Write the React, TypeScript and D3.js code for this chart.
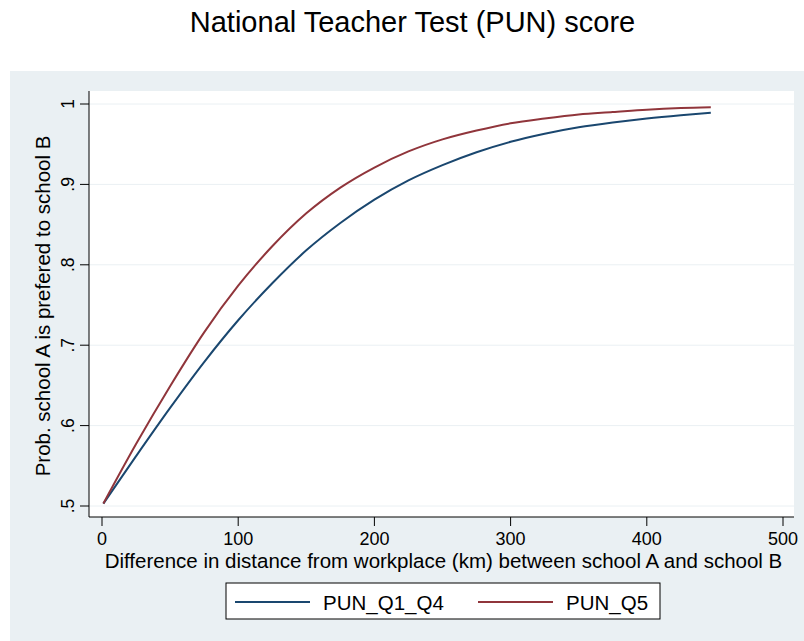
import React from "react";
import * as d3 from "d3";

const distances = [1, 25, 50, 75, 100, 125, 150, 175, 200, 225, 250, 275, 300, 325, 350, 375, 400, 425, 447];
const punQ1Q4 = [0.503, 0.562, 0.622, 0.679, 0.731, 0.777, 0.818, 0.852, 0.881, 0.905, 0.924, 0.94, 0.953, 0.963, 0.971, 0.977, 0.982, 0.986, 0.989];
const punQ5 = [0.503, 0.577, 0.649, 0.716, 0.774, 0.823, 0.864, 0.896, 0.921, 0.941, 0.956, 0.967, 0.976, 0.982, 0.987, 0.99, 0.993, 0.995, 0.996];
const xTicks = [0, 100, 200, 300, 400, 500];
const yTicks = [0.5, 0.6, 0.7, 0.8, 0.9, 1];
const yTickLabels = [".5", ".6", ".7", ".8", ".9", "1"];
const seriesNames = ["PUN_Q1_Q4", "PUN_Q5"];
const seriesColors = ["#1a476f", "#90353b"];

export default function App() {
  const W = 804, H = 641;
  const plotL = 89, plotR = 794, plotT = 91, plotB = 517;
  const x = d3.scaleLinear().domain([0, 500]).range([102, 783]);
  const y = d3.scaleLinear().domain([0.5, 1]).range([506, 104]);
  const line = d3.line<number>()
    .x((_, i) => x(distances[i]))
    .y((d) => y(d))
    .curve(d3.curveMonotoneX);
  const series = [punQ1Q4, punQ5];
  const font = "'Liberation Sans', Arial, sans-serif";
  const legendX = [235, 478];
  return (
    <svg width={W} height={H} style={{ position: "absolute", left: 0, top: 0 }} fontFamily={font}>
      <rect x={0} y={0} width={W} height={H} fill="#ffffff" />
      <text x={412.5} y={32} textAnchor="middle" fontSize={29} fill="#000">National Teacher Test (PUN) score</text>
      <rect x={10} y={71} width={W - 10} height={H - 71} fill="#eaf0f3" />
      <rect x={plotL} y={plotT} width={plotR - plotL} height={plotB - plotT} fill="#ffffff" />
      {yTicks.map((t) => (
        <line key={"g" + t} x1={plotL} x2={plotR} y1={y(t)} y2={y(t)} stroke="#eaf0f3" strokeWidth={1} />
      ))}
      <line x1={plotL} x2={plotL} y1={plotT} y2={plotB} stroke="#000" strokeWidth={1} />
      <line x1={plotL} x2={plotR} y1={plotB} y2={plotB} stroke="#000" strokeWidth={1} />
      {yTicks.map((t, i) => (
        <g key={"yt" + t}>
          <line x1={plotL - 9} x2={plotL} y1={y(t)} y2={y(t)} stroke="#000" />
          <text transform={`translate(74,${y(t)}) rotate(-90)`} textAnchor="middle" fontSize={17.5} fill="#000">{yTickLabels[i]}</text>
        </g>
      ))}
      {xTicks.map((t) => (
        <g key={"xt" + t}>
          <line x1={x(t)} x2={x(t)} y1={plotB} y2={plotB + 9} stroke="#000" />
          <text x={x(t)} y={544.5} textAnchor="middle" fontSize={18} fill="#000">{t}</text>
        </g>
      ))}
      <text x={443.5} y={568} textAnchor="middle" fontSize={20.5} fill="#000">Difference in distance from workplace (km) between school A and school B</text>
      <text transform={`translate(50,306) rotate(-90)`} textAnchor="middle" fontSize={20.5} fill="#000">Prob. school A is prefered to school B</text>
      {series.map((s, i) => (
        <path key={"s" + i} d={line(s) || ""} fill="none" stroke={seriesColors[i]} strokeWidth={2} />
      ))}
      <rect x={226} y={583} width={434} height={36} fill="#ffffff" stroke="#000" strokeWidth={1} />
      {seriesNames.map((n, i) => (
        <g key={"l" + n} transform={`translate(${legendX[i]},602)`}>
          <line x1={0} x2={75} y1={0} y2={0} stroke={seriesColors[i]} strokeWidth={2} />
          <text x={88} y={7.5} fontSize={20.5} fill="#000">{n}</text>
        </g>
      ))}
    </svg>
  );
}
